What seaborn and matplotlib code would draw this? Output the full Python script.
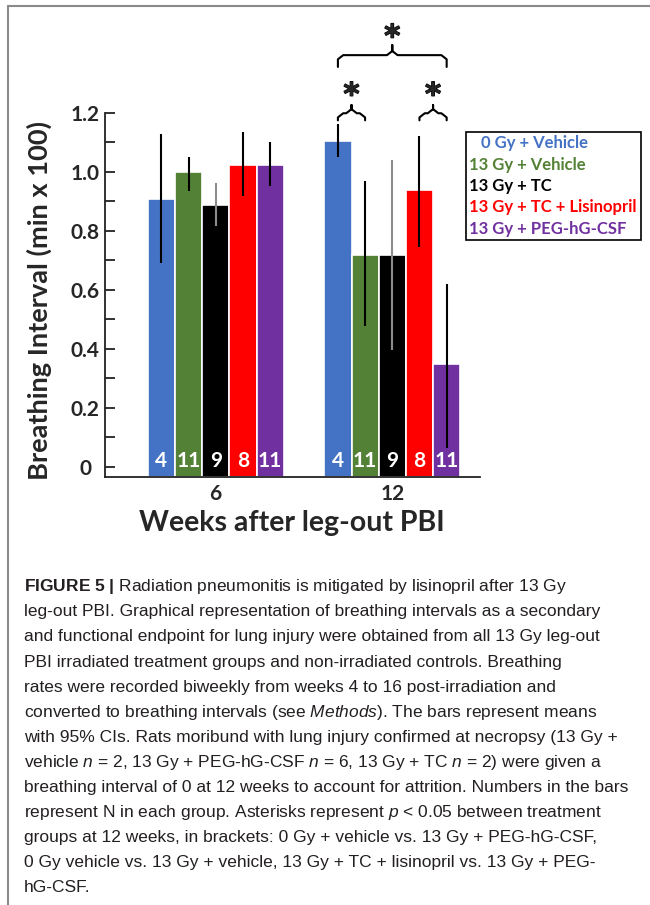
import matplotlib
matplotlib.use('Agg')
import matplotlib.pyplot as plt
import matplotlib.patheffects as pe
import seaborn as sns
import numpy as np
import pandas as pd
from matplotlib.patches import Patch
from matplotlib.lines import Line2D

sns.set_theme(style="ticks")
plt.rcParams['font.family'] = ['Lato', 'DejaVu Sans']
plt.rcParams['mathtext.fontset'] = 'custom'
plt.rcParams['mathtext.rm'] = 'Liberation Sans'
plt.rcParams['mathtext.it'] = 'Liberation Sans:italic'
plt.rcParams['mathtext.bf'] = 'Liberation Sans:bold'

# data
weeks = ['6', '12']
groups = ['0 Gy + Vehicle', '13 Gy + Vehicle', '13 Gy + TC',
          '13 Gy + TC + Lisinopril', '13 Gy + PEG-hG-CSF']
colors = ['#4472C4', '#538135', '#000000', '#FF0000', '#7030A0']

means_w6 = [0.907, 1.000, 0.887, 1.024, 1.024]
means_w12 = [1.105, 0.717, 0.717, 0.938, 0.349]
ci_low_w6 = [0.692, 0.936, 0.817, 0.919, 0.951]
ci_high_w6 = [1.129, 1.049, 0.962, 1.133, 1.102]
ci_low_w12 = [1.049, 0.477, 0.397, 0.746, 0.065]
ci_high_w12 = [1.161, 0.968, 1.039, 1.121, 0.619]
n_w6 = [4, 11, 9, 8, 11]
n_w12 = [4, 11, 9, 8, 11]

ytick_vals = [0, 0.2, 0.4, 0.6, 0.8, 1.0, 1.2]
ytick_labels = ['0', '0.2', '0.4', '0.6', '0.8', '1.0', '1.2']

# significance brackets at week 12: (group i, group j, line height)
brackets = [(0, 4, 1.395), (0, 1, 1.198), (3, 4, 1.198)]

caption = [
    r"$\mathbf{FIGURE\ 5\ |}$ Radiation pneumonitis is mitigated by lisinopril after 13 Gy",
    "leg-out PBI. Graphical representation of breathing intervals as a secondary",
    "and functional endpoint for lung injury were obtained from all 13 Gy leg-out",
    "PBI irradiated treatment groups and non-irradiated controls. Breathing",
    "rates were recorded biweekly from weeks 4 to 16 post-irradiation and",
    r"converted to breathing intervals (see $\mathit{Methods}$). The bars represent means",
    "with 95% CIs. Rats moribund with lung injury confirmed at necropsy (13 Gy +",
    r"vehicle $\mathit{n}$ = 2, 13 Gy + PEG-hG-CSF $\mathit{n}$ = 6, 13 Gy + TC $\mathit{n}$ = 2) were given a",
    "breathing interval of 0 at 12 weeks to account for attrition. Numbers in the bars",
    r"represent N in each group. Asterisks represent $\mathit{p}$ < 0.05 between treatment",
    "groups at 12 weeks, in brackets: 0 Gy + vehicle vs. 13 Gy + PEG-hG-CSF,",
    "0 Gy vehicle vs. 13 Gy + vehicle, 13 Gy + TC + lisinopril vs. 13 Gy + PEG-",
    "hG-CSF.",
]

df = pd.DataFrame({
    'week': weeks[0:1] * 5 + weeks[1:2] * 5,
    'group': groups + groups,
    'value': means_w6 + means_w12,
})
lows = [ci_low_w6, ci_low_w12]
highs = [ci_high_w6, ci_high_w12]
ns = [n_w6, n_w12]

fig = plt.figure(figsize=(6.5, 9.05), dpi=100)
ax = fig.add_axes([0.1608, 0.4729, 0.5777, 0.5167])

ymin, ymax = -0.035, 1.55
sns.barplot(data=df, x='week', y='value', hue='group', order=weeks, hue_order=groups,
            palette=colors, saturation=1, width=0.77, errorbar=None, edgecolor='white',
            linewidth=1.2, legend=False, ax=ax)
ax.set_ylim(ymin, ymax)
ax.set_xlim(-0.63, 1.497)

# bars run down to the axis line, CI lines and N inside bars
centers = {}
for gi, cont in enumerate(ax.containers):
    for wi, bar in enumerate(cont):
        h = bar.get_height()
        bar.set_y(ymin)
        bar.set_height(h - ymin)
        xc = bar.get_x() + bar.get_width() / 2
        centers[(gi, wi)] = xc
        ecol = '#8c8c8c' if gi == 2 else 'black'
        ax.vlines(xc, lows[wi][gi], highs[wi][gi], color=ecol, lw=1.5, zorder=3)
        ax.text(xc, 0.02, str(ns[wi][gi]), ha='center', va='center', color='white',
                fontsize=15, fontweight='bold')


def brace(x0, x1, y):
    xm = (x0 + x1) / 2
    wide = (x1 - x0) > 0.5
    dx, dy = 0.03, 0.014
    drop = 0.04 if wide else 0.024
    peak = 0.034 if wide else 0.028
    xs = [x0, x0, x0 + dx, xm - dx, xm, xm, xm, xm + dx, x1 - dx, x1, x1]
    ys = [y - drop, y - dy, y, y, y + dy, y + peak, y + dy, y, y, y - dy, y - drop]
    ax.plot(xs, ys, color='black', lw=1.5, clip_on=False, solid_joinstyle='round')
    star_y = y + 0.079
    fs = 22
    ax.annotate('*', xy=(xm, star_y), xytext=(0, -0.47 * fs), textcoords='offset points',
                ha='center', va='baseline', fontsize=fs, fontweight='bold',
                family='DejaVu Sans', annotation_clip=False,
                path_effects=[pe.withStroke(linewidth=0.9, foreground='black')])


for i, j, yb in brackets:
    brace(centers[(i, 1)], centers[(j, 1)], yb)

# axes styling
sns.despine(ax=ax)
ax.spines['left'].set_bounds(ymin, 1.2)
for s in ['left', 'bottom']:
    ax.spines[s].set_linewidth(1.3)
    ax.spines[s].set_color('#222222')
ax.set_yticks(ytick_vals)
ax.set_yticklabels(ytick_labels, fontsize=15, fontweight='bold')
ax.set_yticks(np.arange(0.1, 1.2, 0.2), minor=True)
ax.tick_params(axis='y', which='both', direction='in', length=7, width=1.3,
               color='#222222', pad=14)
for lab in ax.get_yticklabels():
    lab.set_horizontalalignment('center')
ax.tick_params(axis='x', length=0, pad=5)
ax.set_xticks(ax.get_xticks())
ax.set_xticklabels(weeks, fontsize=15, fontweight='bold')

ax.set_xlabel('Weeks after leg-out PBI', fontsize=20.5, fontweight='bold')
ax.xaxis.set_label_coords(0.5, -0.098)
ax.xaxis.label.set_va('center')
ax.set_ylabel('Breathing Interval (min x 100)', fontsize=19.6, fontweight='bold')
ax.yaxis.set_label_coords(-0.14, 0.378)

handles = [Patch(facecolor='none', edgecolor='none') for c in colors]
labels = ['   ' + groups[0]] + groups[1:]
leg = ax.legend(handles, labels, loc='upper left',
                bbox_to_anchor=(465.7 / 650, 1 - 131.7 / 905), bbox_transform=fig.transFigure,
                borderaxespad=0, handlelength=0, handletextpad=0, labelcolor=colors,
                prop={'weight': 'bold', 'size': 12}, labelspacing=0.32,
                borderpad=0.22, fancybox=False, framealpha=1, edgecolor='black')
leg.get_frame().set_linewidth(1.2)

# caption
for k, line in enumerate(caption):
    fig.text(23.6 / 650, 1 - (586.7 + 25.1 * k) / 905, line, ha='left', va='center',
             fontsize=12.5, color='#231f20', family=['Liberation Sans', 'DejaVu Sans'])

# page frame
fig.add_artist(Line2D([8 / 650, 1], [1 - 6 / 905, 1 - 6 / 905], color='#8a8a8a', lw=1.5))
fig.add_artist(Line2D([8 / 650, 8 / 650], [0, 1 - 6 / 905], color='#8a8a8a', lw=1.5))

fig.savefig('out.png', dpi=100)
